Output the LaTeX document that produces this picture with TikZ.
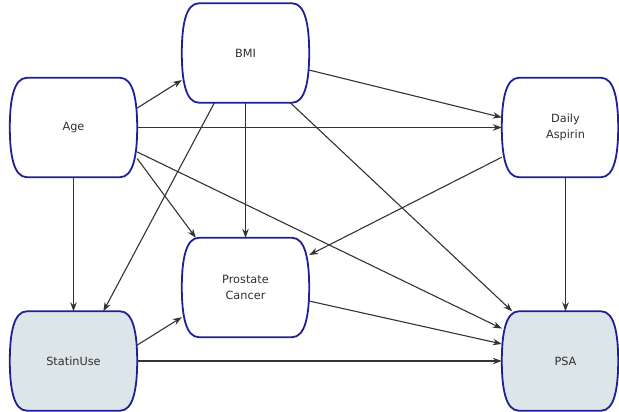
\documentclass[tikz,border=0pt]{standalone}
\usepackage{fontspec}
\setmainfont{DejaVu Sans}
\usetikzlibrary{arrows.meta,backgrounds}
\definecolor{edgeblue}{HTML}{1F1F96}
\definecolor{boxfill}{HTML}{DCE5E8}
\definecolor{linegray}{HTML}{333333}
\definecolor{labelgray}{HTML}{303030}
\begin{document}
\begin{tikzpicture}[x=1pt,y=-1pt,
  var/.style={minimum width=127pt, minimum height=99pt, inner sep=0pt, align=center,
              font=\fontsize{11.3}{15.5}\selectfont, text=labelgray},
  arrow/.style={draw=linegray, line width=1.1pt, -{Stealth[length=9pt,width=6.5pt]}},
  outline/.style={draw=edgeblue, line width=1.8pt}]
\useasboundingbox (0,0) rectangle (619,412);

% variables
\node[var] (age)    at (73.5,127.5)  {Age};
\node[var] (bmi)    at (245.5,53)    {BMI};
\node[var] (asp)    at (565.5,127.5) {Daily\\Aspirin};
\node[var] (pc)     at (245.5,287.5) {Prostate\\Cancer};
\node[var] (statin) at (73.5,361)    {StatinUse};
\node[var] (psa)    at (565.5,361)   {PSA};

% barrel-shaped outlines (right column trimmed on the right)
\begin{scope}[on background layer]
\foreach \nm/\rt/\fc in {age/0pt/white, bmi/0pt/white, asp/11pt/white,
                         pc/0pt/white, statin/0pt/boxfill, psa/11pt/boxfill}{
  \path[outline, fill=\fc]
    ([xshift=17pt]\nm.north west) -- ([xshift=-17pt-\rt]\nm.north east)
    .. controls ([xshift=-4pt-\rt]\nm.north east) and ([xshift=-\rt,yshift=-22pt]\nm.north east)
    .. ([xshift=-\rt]\nm.east)
    .. controls ([xshift=-\rt,yshift=22pt]\nm.south east) and ([xshift=-4pt-\rt]\nm.south east)
    .. ([xshift=-17pt-\rt]\nm.south east) -- ([xshift=17pt]\nm.south west)
    .. controls ([xshift=4pt]\nm.south west) and ([yshift=22pt]\nm.south west)
    .. (\nm.west)
    .. controls ([yshift=-22pt]\nm.north west) and ([xshift=4pt]\nm.north west)
    .. cycle;
}
\end{scope}

% dependencies
\draw[arrow] (age.17)     -- (bmi.203);
\draw[arrow] (age.east)   -- (asp.west);
\draw[arrow] (age.south)  -- (statin.north);
\draw[arrow] (age.-26)    -- (pc.135);
\draw[arrow] (age.-21)    -- (psa.153.6);
\draw[arrow] (bmi.-15)    -- (asp.171.5);
\draw[arrow] (bmi.south)  -- (pc.north);
\draw[arrow] (bmi.238)    -- (statin.59);
\draw[arrow] (bmi.-48)    -- (psa.137.3);
\draw[arrow] (asp.205)    -- (pc.27.5);
\draw[arrow] (asp.south)  -- (psa.north);
\draw[arrow] (pc.-12.9)   -- (psa.165.4);
\draw[arrow] (statin.14)  -- (pc.205);
\draw[arrow] (statin.east) -- (psa.west);
\end{tikzpicture}
\end{document}
